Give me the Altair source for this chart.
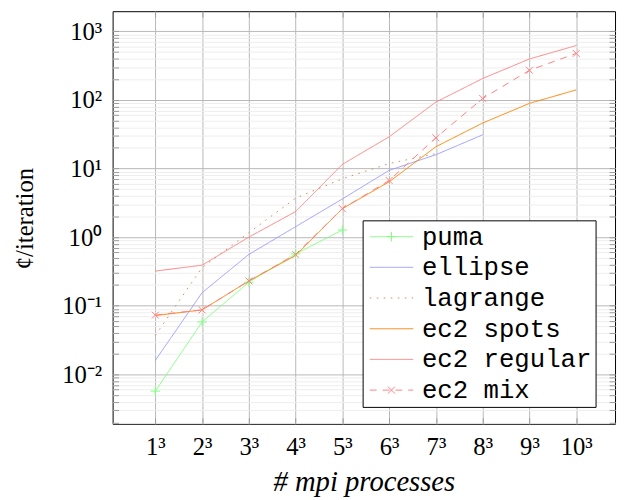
import altair as alt
import pandas as pd

# ---------------- data ----------------
series_names = ["puma", "ellipse", "lagrange", "ec2 spots", "ec2 regular", "ec2 mix"]
series_colors = ["#80ff80", "#9999ff", "#c8915a", "#ff8000", "#ff8080", "#ff8080"]
series_dashes = [[1, 0], [1, 0], [1.6, 5.5], [1, 0], [1, 0], [7, 6]]

x_ticks = [1, 2, 3, 4, 5, 6, 7, 8, 9, 10]
x_labels = ["1³", "2³", "3³", "4³", "5³", "6³", "7³", "8³", "9³", "10³"]

y_major = [0.01, 0.1, 1, 10, 100, 1000]
y_labels = ["10⁻²", "10⁻¹", "10⁰", "10¹", "10²", "10³"]

puma = [0.0057, 0.058, 0.22, 0.57, 1.27]
ellipse = [0.016, 0.155, 0.56, 1.42, 3.6, 9.4, 15.9, 31]
lagrange = [0.037, 0.36, 1.16, 3.7, 7.1, 11.8, 16.5]
ec2_spots = [0.072, 0.087, 0.23, 0.54, 2.6, 6.4, 20.8, 46, 89, 140]
ec2_regular = [0.32, 0.39, 1.0, 2.36, 11.5, 29, 93, 205, 395, 620]
ec2_mix = [0.073, 0.087, 0.23, 0.56, 2.6, 6.7, 28, 105, 270, 476]

all_series = [puma, ellipse, lagrange, ec2_spots, ec2_regular, ec2_mix]

rows = []
for name, vals in zip(series_names, all_series):
    for xi, v in zip(x_ticks, vals):
        rows.append({"series": name, "mk": name + " ", "x": xi, "y": v})
df = pd.DataFrame(rows)

marker_series = ["puma", "ec2 mix"]
mk_names = [n + " " for n in series_names]
mk_shapes = [
    "M-0.44,0H0.44M0,-0.44V0.44",
    "M0,0",
    "M0,0",
    "M0,0",
    "M0,0",
    "M-0.32,-0.32L0.32,0.32M-0.32,0.32L0.32,-0.32",
]

# y tick positions (major + minor)
y_ticks = []
for e in range(-3, 4):
    for k in range(1, 10):
        v = k * 10.0 ** e
        if 0.0019 <= v <= 1962:
            y_ticks.append(round(v, 6))


def label_chain(vals, labels):
    parts = [f"abs(datum.value - {v}) < {abs(v) * 1e-6} ? '{l}'" for v, l in zip(vals, labels)]
    return " : ".join(parts) + " : ''"


major_test = "abs(log(datum.value)/LN10 - round(log(datum.value)/LN10)) < 0.001"

x_scale = alt.Scale(domain=[0.087, 10.83], nice=False, zero=False)
y_scale = alt.Scale(type="log", domain=[0.001905, 1962], nice=False)

SERIF = "Liberation Serif"
MONO = "Liberation Mono"

legend_common = dict(
    orient="none", legendX=253.3, legendY=211.9, title=None,
    symbolSize=484, symbolStrokeWidth=1,
    labelFont=MONO, labelFontSize=26, labelColor="black",
    labelOffset=17.9, symbolOffset=12.7, rowPadding=5.1, padding=3.5,
    labelLimit=400, labelExpr="datum.label + '\u00a0'",
)

legA = alt.Legend(symbolType="M-2,0H2", fillColor="white", strokeColor="black", zindex=0, **legend_common)
legB = alt.Legend(labelOpacity=0, zindex=1, **legend_common)

y_axis_left = alt.Axis(
    values=y_ticks, labelExpr=label_chain(y_major, y_labels),
    labelFont=SERIF, labelFontSize=25, labelColor="black", labelPadding=11,
    labelOverlap=False, labelFlush=False,
    tickSize=6, tickColor="#9a9a9a", offset=-6, domain=False,
    grid=True,
    gridColor={"condition": {"test": major_test, "value": "#b8b8b8"}, "value": "#eeeeee"},
    gridWidth=1,
    title="¢/iteration", titleFont=SERIF, titleFontSize=25, titleFontWeight="normal",
    titleColor="black", titleX=-95, titleY=209.6, titleAngle=270,
    titleBaseline="middle", titleAlign="center",
)
x_axis_bottom = alt.Axis(
    values=x_ticks, labelExpr=label_chain(x_ticks, x_labels),
    labelFont=SERIF, labelFontSize=25, labelColor="black", labelPadding=11,
    labelOverlap=False, labelFlush=False, labelAngle=0,
    tickSize=6, tickColor="#9a9a9a", offset=-6, domain=False,
    grid=True, gridColor="#b8b8b8", gridWidth=1,
    title="# mpi processes", titleFont=SERIF, titleFontSize=29, titleFontWeight="normal",
    titleFontStyle="italic", titleColor="black", titleX=254.5, titleY=74,
    titleBaseline="alphabetic", titleAlign="center",
)
y_axis_right = alt.Axis(
    orient="right", values=y_ticks, labels=False, tickSize=6, tickColor="#9a9a9a",
    offset=-6, domain=False, grid=False, title=None,
)
x_axis_top = alt.Axis(
    orient="top", values=x_ticks, labels=False, tickSize=6, tickColor="#9a9a9a",
    offset=-6, domain=False, grid=False, title=None,
)

lines = alt.Chart(df).mark_line(strokeWidth=1).encode(
    x=alt.X("x:Q", scale=x_scale, axis=x_axis_bottom),
    y=alt.Y("y:Q", scale=y_scale, axis=y_axis_left),
    color=alt.Color("series:N", scale=alt.Scale(domain=series_names, range=series_colors), legend=legA),
    strokeDash=alt.StrokeDash("series:N", scale=alt.Scale(domain=series_names, range=series_dashes), legend=legA),
    order="x:Q",
)

points = alt.Chart(df).transform_filter(
    alt.FieldOneOfPredicate(field="series", oneOf=marker_series)
).mark_point(size=484, strokeWidth=1, filled=False, opacity=1).encode(
    x=alt.X("x:Q", scale=x_scale, axis=x_axis_top),
    y=alt.Y("y:Q", scale=y_scale, axis=y_axis_right),
    color=alt.Color("mk:N", scale=alt.Scale(domain=mk_names, range=series_colors), legend=legB),
    shape=alt.Shape("mk:N", scale=alt.Scale(domain=mk_names, range=mk_shapes), legend=legB),
)

chart = alt.layer(lines, points).resolve_scale(
    color="independent", shape="independent", strokeDash="independent"
).resolve_legend(
    color="independent", shape="independent", strokeDash="independent"
).resolve_axis(
    x="independent", y="independent"
).properties(
    width=509, height=418,
    autosize=alt.AutoSizeParams(type="none"),
    padding={"left": 106, "top": 0, "right": 2, "bottom": 75},
    background="white",
).configure_view(stroke="black", strokeWidth=1)

chart.save("out.html", embed_options={"renderer": "svg", "actions": False})
